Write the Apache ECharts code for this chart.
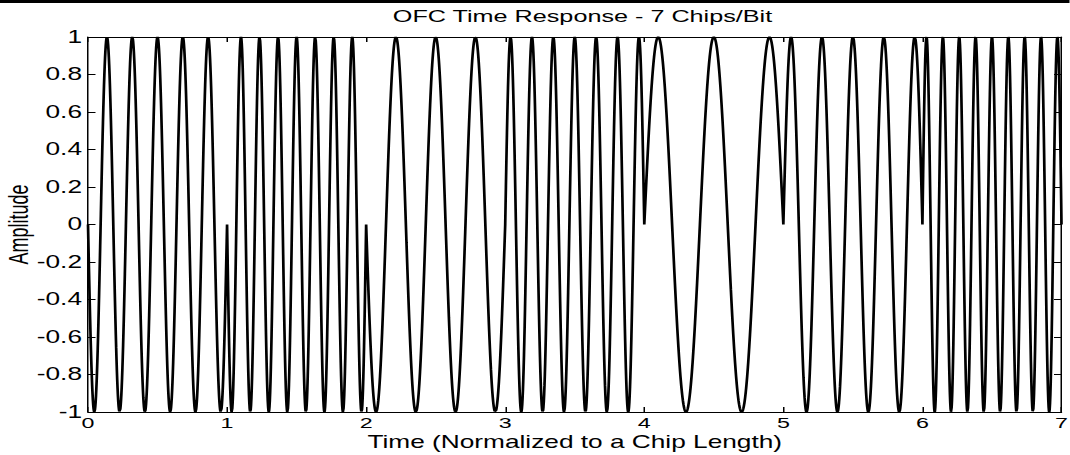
<!DOCTYPE html>
<html>
<head>
<meta charset="utf-8">
<script src="https://cdn.jsdelivr.net/npm/echarts@6/dist/echarts.min.js"></script>
<style>
html,body{margin:0;padding:0;background:#fff;overflow:hidden;}
#wrap{width:1070px;height:455px;overflow:hidden;}
#chart{width:713.33px;height:455px;transform:scaleX(1.5);transform-origin:0 0;}
</style>
</head>
<body>
<div id="wrap"><div id="chart"></div></div>
<script>
// Chip layout: 7 chips, each a sinusoidal burst
var chipIndex = [0, 1, 2, 3, 4, 5, 6];
// number of carrier cycles inside each chip (counted from the picture)
var chipCycles = [5.5, 7.5, 3.5, 6.5, 2.5, 4.5, 8.5];
// starting direction of each chip (-1 = first swing down, +1 = first swing up)
var chipPolarity = [-1, -1, -1, 1, 1, 1, 1];
var xTicks = [0, 1, 2, 3, 4, 5, 6, 7];
var yTicks = [-1, -0.8, -0.6, -0.4, -0.2, 0, 0.2, 0.4, 0.6, 0.8, 1];

var samplesPerChip = 400;
var wave = [];
chipIndex.forEach(function (c) {
  for (var k = 0; k <= samplesPerChip; k++) {
    var tau = k / samplesPerChip;
    var v = chipPolarity[c] * Math.sin(2 * Math.PI * chipCycles[c] * tau);
    wave.push([c + tau, v]);
  }
});

var S = 1.5; // horizontal stretch of the figure
var chart = echarts.init(document.getElementById('chart'), null, {renderer: 'svg'});
var font = 'Liberation Sans, Arial, sans-serif';
function axisCommon() {
  return {
    axisLine: {show: true, onZero: false, lineStyle: {color: '#000', width: 1}},
    axisTick: {show: true, inside: true, length: 5, lineStyle: {color: '#000', width: 1}},
    splitLine: {show: false},
    nameMoveOverlap: false
  };
}
chart.setOption({
  animation: false,
  backgroundColor: '#fff',
  title: {
    text: 'OFC Time Response - 7 Chips/Bit',
    left: 575 / S, top: 3, textAlign: 'center',
    textStyle: {fontFamily: font, fontSize: 16.8, fontWeight: 'normal', color: '#000'}
  },
  graphic: [{
    type: 'rect', left: 0, top: 0,
    shape: {width: 1070 / S, height: 3},
    style: {fill: '#000'}
  }],
  grid: {left: 88 / S, right: 8 / S, top: 37, bottom: 43, containLabel: false, outerBoundsMode: 'none'},
  xAxis: [
    Object.assign(axisCommon(), {
      type: 'value', position: 'bottom', min: xTicks[0], max: xTicks[xTicks.length - 1], interval: 1,
      name: 'Time (Normalized to a Chip Length)', nameLocation: 'middle', nameGap: 21,
      nameTextStyle: {fontFamily: font, fontSize: 17.5, color: '#000', lineHeight: 18},
      axisLabel: {fontFamily: font, fontSize: 15.5, color: '#000', margin: 3, lineHeight: 16}
    }),
    Object.assign(axisCommon(), {
      type: 'value', position: 'top', min: xTicks[0], max: xTicks[xTicks.length - 1], interval: 1,
      axisLabel: {show: false}
    })
  ],
  yAxis: [
    Object.assign(axisCommon(), {
      type: 'value', position: 'left', min: yTicks[0], max: yTicks[yTicks.length - 1], interval: 0.2,
      name: 'Amplitude', nameLocation: 'middle', nameGap: 37, nameRotate: 90,
      nameTextStyle: {fontFamily: font, fontSize: 18, color: '#000'},
      axisLabel: {fontFamily: font, fontSize: 17.5, color: '#000', margin: 4,
        formatter: function (v) { return String(Math.round(v * 10) / 10); }}
    }),
    Object.assign(axisCommon(), {
      type: 'value', position: 'right', min: yTicks[0], max: yTicks[yTicks.length - 1], interval: 0.2,
      axisLabel: {show: false}
    })
  ],
  series: [{
    type: 'line',
    data: wave,
    showSymbol: false,
    lineStyle: {color: '#000', width: 1.8},
    clip: true
  }]
});
</script>
</body>
</html>
